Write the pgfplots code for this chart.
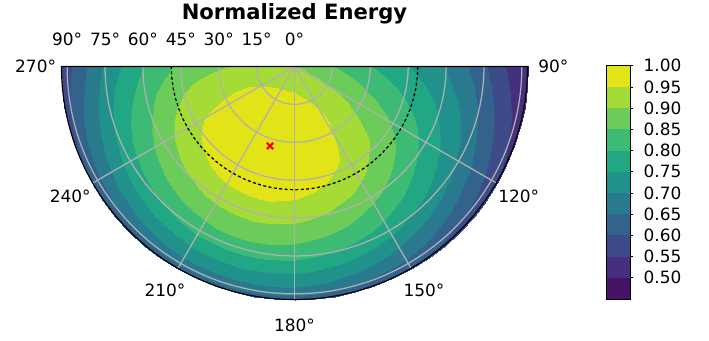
\documentclass[border=0pt]{standalone}
\usepackage{pgfplots}
\pgfplotsset{compat=1.18}
\usepackage{fontspec}
\setmainfont{DejaVu Sans}
\definecolor{b0}{RGB}{71,19,101}
\definecolor{b1}{RGB}{70,48,126}
\definecolor{b2}{RGB}{62,75,137}
\definecolor{b3}{RGB}{51,99,141}
\definecolor{b4}{RGB}{41,122,142}
\definecolor{b5}{RGB}{33,145,140}
\definecolor{b6}{RGB}{34,167,133}
\definecolor{b7}{RGB}{61,187,116}
\definecolor{b8}{RGB}{107,204,90}
\definecolor{b9}{RGB}{165,219,54}
\definecolor{b10}{RGB}{226,228,24}
\definecolor{gridgray}{RGB}{176,176,176}
\pgfplotsset{colormap={bands}{color(0pt)=(b0) color(1pt)=(b1) color(2pt)=(b2) color(3pt)=(b3) color(4pt)=(b4) color(5pt)=(b5) color(6pt)=(b6) color(7pt)=(b7) color(8pt)=(b8) color(9pt)=(b9) color(10pt)=(b10) color(11pt)=(b10)}}
\newcommand{\lbl}{\fontsize{12.2pt}{14pt}\selectfont}
\begin{document}
\begin{tikzpicture}
\useasboundingbox (0,0) rectangle (510.48pt,245.52pt);
\begin{axis}[
  at={(44.28pt,197.64pt)}, anchor=north west,
  x=1.86408pt, y=1.86408pt,
  xmin=-90, xmax=90, ymin=-90, ymax=0,
  hide axis, clip=false, enlargelimits=false,
  colormap name=bands, colormap access=piecewise constant,
  point meta min=0.45, point meta max=1.0,
]
% polar mesh: (angle, radius) [normalized energy]; angle = 90 - azimuth
\addplot[surf, shader=interp, data cs=polar, mesh/cols=37, point meta=explicit] coordinates {
(0,0)[.903] (-5,0)[.903] (-10,0)[.903] (-15,0)[.903] (-20,0)[.903] (-25,0)[.903] (-30,0)[.903] (-35,0)[.903] (-40,0)[.903] (-45,0)[.903] (-50,0)[.903] (-55,0)[.903] (-60,0)[.903] (-65,0)[.903] (-70,0)[.903] (-75,0)[.903] (-80,0)[.903] (-85,0)[.903] (-90,0)[.903] (-95,0)[.903] (-100,0)[.903] (-105,0)[.903] (-110,0)[.903] (-115,0)[.903] (-120,0)[.903] (-125,0)[.903] (-130,0)[.903] (-135,0)[.903] (-140,0)[.903] (-145,0)[.903] (-150,0)[.903] (-155,0)[.903] (-160,0)[.903] (-165,0)[.903] (-170,0)[.903] (-175,0)[.903] (-180,0)[.903]
(0,5)[.889] (-5,5)[.891] (-10,5)[.894] (-15,5)[.896] (-20,5)[.899] (-25,5)[.901] (-30,5)[.904] (-35,5)[.906] (-40,5)[.909] (-45,5)[.911] (-50,5)[.913] (-55,5)[.915] (-60,5)[.917] (-65,5)[.919] (-70,5)[.920] (-75,5)[.922] (-80,5)[.923] (-85,5)[.924] (-90,5)[.925] (-95,5)[.925] (-100,5)[.926] (-105,5)[.926] (-110,5)[.926] (-115,5)[.926] (-120,5)[.925] (-125,5)[.925] (-130,5)[.924] (-135,5)[.923] (-140,5)[.922] (-145,5)[.920] (-150,5)[.919] (-155,5)[.917] (-160,5)[.915] (-165,5)[.913] (-170,5)[.911] (-175,5)[.908] (-180,5)[.906]
(0,10)[.870] (-5,10)[.875] (-10,10)[.881] (-15,10)[.886] (-20,10)[.892] (-25,10)[.897] (-30,10)[.903] (-35,10)[.908] (-40,10)[.913] (-45,10)[.918] (-50,10)[.923] (-55,10)[.927] (-60,10)[.932] (-65,10)[.936] (-70,10)[.939] (-75,10)[.942] (-80,10)[.945] (-85,10)[.947] (-90,10)[.949] (-95,10)[.951] (-100,10)[.951] (-105,10)[.952] (-110,10)[.952] (-115,10)[.951] (-120,10)[.950] (-125,10)[.949] (-130,10)[.947] (-135,10)[.945] (-140,10)[.942] (-145,10)[.939] (-150,10)[.935] (-155,10)[.931] (-160,10)[.927] (-165,10)[.923] (-170,10)[.918] (-175,10)[.913] (-180,10)[.908]
(0,15)[.852] (-5,15)[.860] (-10,15)[.868] (-15,15)[.876] (-20,15)[.884] (-25,15)[.893] (-30,15)[.901] (-35,15)[.909] (-40,15)[.916] (-45,15)[.924] (-50,15)[.931] (-55,15)[.937] (-60,15)[.944] (-65,15)[.949] (-70,15)[.955] (-75,15)[.959] (-80,15)[.963] (-85,15)[.967] (-90,15)[.970] (-95,15)[.972] (-100,15)[.973] (-105,15)[.974] (-110,15)[.974] (-115,15)[.973] (-120,15)[.972] (-125,15)[.970] (-130,15)[.967] (-135,15)[.963] (-140,15)[.959] (-145,15)[.954] (-150,15)[.949] (-155,15)[.943] (-160,15)[.937] (-165,15)[.930] (-170,15)[.923] (-175,15)[.916] (-180,15)[.908]
(0,20)[.834] (-5,20)[.844] (-10,20)[.855] (-15,20)[.865] (-20,20)[.876] (-25,20)[.886] (-30,20)[.897] (-35,20)[.907] (-40,20)[.917] (-45,20)[.926] (-50,20)[.935] (-55,20)[.944] (-60,20)[.952] (-65,20)[.959] (-70,20)[.966] (-75,20)[.972] (-80,20)[.977] (-85,20)[.982] (-90,20)[.985] (-95,20)[.988] (-100,20)[.990] (-105,20)[.991] (-110,20)[.991] (-115,20)[.990] (-120,20)[.988] (-125,20)[.985] (-130,20)[.982] (-135,20)[.977] (-140,20)[.972] (-145,20)[.966] (-150,20)[.959] (-155,20)[.952] (-160,20)[.944] (-165,20)[.935] (-170,20)[.926] (-175,20)[.916] (-180,20)[.906]
(0,25)[.817] (-5,25)[.829] (-10,25)[.841] (-15,25)[.853] (-20,25)[.866] (-25,25)[.878] (-30,25)[.890] (-35,25)[.902] (-40,25)[.913] (-45,25)[.924] (-50,25)[.935] (-55,25)[.945] (-60,25)[.954] (-65,25)[.963] (-70,25)[.971] (-75,25)[.978] (-80,25)[.984] (-85,25)[.989] (-90,25)[.994] (-95,25)[.997] (-100,25)[.999] (-105,25)[1.000] (-110,25)[1.000] (-115,25)[.999] (-120,25)[.997] (-125,25)[.993] (-130,25)[.989] (-135,25)[.984] (-140,25)[.978] (-145,25)[.971] (-150,25)[.963] (-155,25)[.954] (-160,25)[.945] (-165,25)[.935] (-170,25)[.924] (-175,25)[.913] (-180,25)[.901]
(0,30)[.799] (-5,30)[.812] (-10,30)[.825] (-15,30)[.839] (-20,30)[.852] (-25,30)[.866] (-30,30)[.879] (-35,30)[.892] (-40,30)[.905] (-45,30)[.917] (-50,30)[.929] (-55,30)[.940] (-60,30)[.950] (-65,30)[.960] (-70,30)[.968] (-75,30)[.976] (-80,30)[.983] (-85,30)[.988] (-90,30)[.993] (-95,30)[.996] (-100,30)[.999] (-105,30)[1.000] (-110,30)[1.000] (-115,30)[.999] (-120,30)[.996] (-125,30)[.993] (-130,30)[.988] (-135,30)[.982] (-140,30)[.976] (-145,30)[.968] (-150,30)[.959] (-155,30)[.950] (-160,30)[.939] (-165,30)[.928] (-170,30)[.917] (-175,30)[.904] (-180,30)[.892]
(0,35)[.782] (-5,35)[.796] (-10,35)[.811] (-15,35)[.825] (-20,35)[.840] (-25,35)[.854] (-30,35)[.869] (-35,35)[.883] (-40,35)[.897] (-45,35)[.910] (-50,35)[.923] (-55,35)[.935] (-60,35)[.946] (-65,35)[.956] (-70,35)[.966] (-75,35)[.974] (-80,35)[.981] (-85,35)[.987] (-90,35)[.992] (-95,35)[.996] (-100,35)[.999] (-105,35)[1.000] (-110,35)[1.000] (-115,35)[.999] (-120,35)[.996] (-125,35)[.992] (-130,35)[.987] (-135,35)[.981] (-140,35)[.974] (-145,35)[.965] (-150,35)[.956] (-155,35)[.945] (-160,35)[.934] (-165,35)[.922] (-170,35)[.909] (-175,35)[.896] (-180,35)[.882]
(0,40)[.764] (-5,40)[.779] (-10,40)[.795] (-15,40)[.811] (-20,40)[.826] (-25,40)[.842] (-30,40)[.858] (-35,40)[.873] (-40,40)[.888] (-45,40)[.902] (-50,40)[.916] (-55,40)[.929] (-60,40)[.941] (-65,40)[.952] (-70,40)[.962] (-75,40)[.971] (-80,40)[.979] (-85,40)[.985] (-90,40)[.991] (-95,40)[.995] (-100,40)[.998] (-105,40)[.999] (-110,40)[.999] (-115,40)[.997] (-120,40)[.995] (-125,40)[.991] (-130,40)[.985] (-135,40)[.978] (-140,40)[.971] (-145,40)[.961] (-150,40)[.951] (-155,40)[.940] (-160,40)[.928] (-165,40)[.915] (-170,40)[.901] (-175,40)[.887] (-180,40)[.872]
(0,45)[.746] (-5,45)[.762] (-10,45)[.777] (-15,45)[.793] (-20,45)[.809] (-25,45)[.825] (-30,45)[.841] (-35,45)[.857] (-40,45)[.872] (-45,45)[.886] (-50,45)[.900] (-55,45)[.913] (-60,45)[.926] (-65,45)[.937] (-70,45)[.947] (-75,45)[.956] (-80,45)[.964] (-85,45)[.971] (-90,45)[.977] (-95,45)[.981] (-100,45)[.984] (-105,45)[.985] (-110,45)[.985] (-115,45)[.983] (-120,45)[.981] (-125,45)[.976] (-130,45)[.971] (-135,45)[.964] (-140,45)[.956] (-145,45)[.947] (-150,45)[.936] (-155,45)[.925] (-160,45)[.913] (-165,45)[.900] (-170,45)[.886] (-175,45)[.871] (-180,45)[.856]
(0,50)[.728] (-5,50)[.743] (-10,50)[.759] (-15,50)[.775] (-20,50)[.791] (-25,50)[.807] (-30,50)[.822] (-35,50)[.838] (-40,50)[.853] (-45,50)[.867] (-50,50)[.881] (-55,50)[.894] (-60,50)[.906] (-65,50)[.917] (-70,50)[.928] (-75,50)[.937] (-80,50)[.945] (-85,50)[.951] (-90,50)[.957] (-95,50)[.961] (-100,50)[.964] (-105,50)[.965] (-110,50)[.965] (-115,50)[.963] (-120,50)[.961] (-125,50)[.957] (-130,50)[.951] (-135,50)[.944] (-140,50)[.936] (-145,50)[.927] (-150,50)[.917] (-155,50)[.906] (-160,50)[.893] (-165,50)[.880] (-170,50)[.867] (-175,50)[.852] (-180,50)[.837]
(0,55)[.709] (-5,55)[.724] (-10,55)[.739] (-15,55)[.755] (-20,55)[.770] (-25,55)[.786] (-30,55)[.801] (-35,55)[.816] (-40,55)[.831] (-45,55)[.845] (-50,55)[.858] (-55,55)[.871] (-60,55)[.883] (-65,55)[.894] (-70,55)[.904] (-75,55)[.912] (-80,55)[.920] (-85,55)[.927] (-90,55)[.932] (-95,55)[.936] (-100,55)[.939] (-105,55)[.940] (-110,55)[.940] (-115,55)[.938] (-120,55)[.936] (-125,55)[.932] (-130,55)[.926] (-135,55)[.920] (-140,55)[.912] (-145,55)[.903] (-150,55)[.893] (-155,55)[.882] (-160,55)[.870] (-165,55)[.857] (-170,55)[.844] (-175,55)[.830] (-180,55)[.815]
(0,60)[.687] (-5,60)[.702] (-10,60)[.716] (-15,60)[.731] (-20,60)[.746] (-25,60)[.761] (-30,60)[.776] (-35,60)[.791] (-40,60)[.805] (-45,60)[.819] (-50,60)[.832] (-55,60)[.844] (-60,60)[.855] (-65,60)[.866] (-70,60)[.876] (-75,60)[.884] (-80,60)[.892] (-85,60)[.898] (-90,60)[.903] (-95,60)[.907] (-100,60)[.910] (-105,60)[.911] (-110,60)[.911] (-115,60)[.910] (-120,60)[.907] (-125,60)[.903] (-130,60)[.898] (-135,60)[.891] (-140,60)[.884] (-145,60)[.875] (-150,60)[.866] (-155,60)[.855] (-160,60)[.843] (-165,60)[.831] (-170,60)[.818] (-175,60)[.804] (-180,60)[.790]
(0,65)[.662] (-5,65)[.676] (-10,65)[.691] (-15,65)[.705] (-20,65)[.720] (-25,65)[.734] (-30,65)[.749] (-35,65)[.763] (-40,65)[.777] (-45,65)[.790] (-50,65)[.803] (-55,65)[.815] (-60,65)[.826] (-65,65)[.836] (-70,65)[.846] (-75,65)[.854] (-80,65)[.861] (-85,65)[.867] (-90,65)[.872] (-95,65)[.876] (-100,65)[.879] (-105,65)[.880] (-110,65)[.880] (-115,65)[.879] (-120,65)[.876] (-125,65)[.872] (-130,65)[.867] (-135,65)[.861] (-140,65)[.854] (-145,65)[.845] (-150,65)[.836] (-155,65)[.825] (-160,65)[.814] (-165,65)[.802] (-170,65)[.789] (-175,65)[.776] (-180,65)[.762]
(0,70)[.631] (-5,70)[.645] (-10,70)[.659] (-15,70)[.674] (-20,70)[.689] (-25,70)[.703] (-30,70)[.717] (-35,70)[.732] (-40,70)[.745] (-45,70)[.758] (-50,70)[.771] (-55,70)[.783] (-60,70)[.794] (-65,70)[.804] (-70,70)[.814] (-75,70)[.822] (-80,70)[.829] (-85,70)[.835] (-90,70)[.840] (-95,70)[.844] (-100,70)[.847] (-105,70)[.848] (-110,70)[.848] (-115,70)[.847] (-120,70)[.844] (-125,70)[.840] (-130,70)[.835] (-135,70)[.829] (-140,70)[.822] (-145,70)[.813] (-150,70)[.804] (-155,70)[.794] (-160,70)[.782] (-165,70)[.771] (-170,70)[.758] (-175,70)[.745] (-180,70)[.731]
(0,75)[.594] (-5,75)[.608] (-10,75)[.622] (-15,75)[.636] (-20,75)[.650] (-25,75)[.664] (-30,75)[.678] (-35,75)[.691] (-40,75)[.705] (-45,75)[.717] (-50,75)[.729] (-55,75)[.741] (-60,75)[.752] (-65,75)[.762] (-70,75)[.771] (-75,75)[.779] (-80,75)[.786] (-85,75)[.792] (-90,75)[.797] (-95,75)[.800] (-100,75)[.803] (-105,75)[.804] (-110,75)[.804] (-115,75)[.803] (-120,75)[.800] (-125,75)[.796] (-130,75)[.792] (-135,75)[.786] (-140,75)[.779] (-145,75)[.770] (-150,75)[.761] (-155,75)[.751] (-160,75)[.741] (-165,75)[.729] (-170,75)[.717] (-175,75)[.704] (-180,75)[.691]
(0,80)[.559] (-5,80)[.572] (-10,80)[.585] (-15,80)[.598] (-20,80)[.611] (-25,80)[.624] (-30,80)[.637] (-35,80)[.650] (-40,80)[.662] (-45,80)[.674] (-50,80)[.685] (-55,80)[.696] (-60,80)[.706] (-65,80)[.716] (-70,80)[.724] (-75,80)[.732] (-80,80)[.738] (-85,80)[.744] (-90,80)[.748] (-95,80)[.752] (-100,80)[.754] (-105,80)[.755] (-110,80)[.755] (-115,80)[.754] (-120,80)[.751] (-125,80)[.748] (-130,80)[.743] (-135,80)[.738] (-140,80)[.731] (-145,80)[.724] (-150,80)[.715] (-155,80)[.706] (-160,80)[.696] (-165,80)[.685] (-170,80)[.674] (-175,80)[.662] (-180,80)[.649]
(0,85)[.526] (-5,85)[.538] (-10,85)[.550] (-15,85)[.562] (-20,85)[.574] (-25,85)[.586] (-30,85)[.598] (-35,85)[.610] (-40,85)[.622] (-45,85)[.633] (-50,85)[.643] (-55,85)[.653] (-60,85)[.663] (-65,85)[.671] (-70,85)[.679] (-75,85)[.686] (-80,85)[.692] (-85,85)[.697] (-90,85)[.702] (-95,85)[.705] (-100,85)[.707] (-105,85)[.708] (-110,85)[.708] (-115,85)[.707] (-120,85)[.705] (-125,85)[.701] (-130,85)[.697] (-135,85)[.692] (-140,85)[.686] (-145,85)[.679] (-150,85)[.671] (-155,85)[.662] (-160,85)[.653] (-165,85)[.643] (-170,85)[.632] (-175,85)[.621] (-180,85)[.610]
(0,90.3)[.497] (-5,90.3)[.506] (-10,90.3)[.514] (-15,90.3)[.523] (-20,90.3)[.532] (-25,90.3)[.541] (-30,90.3)[.550] (-35,90.3)[.559] (-40,90.3)[.567] (-45,90.3)[.575] (-50,90.3)[.583] (-55,90.3)[.590] (-60,90.3)[.597] (-65,90.3)[.603] (-70,90.3)[.609] (-75,90.3)[.614] (-80,90.3)[.619] (-85,90.3)[.622] (-90,90.3)[.625] (-95,90.3)[.628] (-100,90.3)[.629] (-105,90.3)[.630] (-110,90.3)[.630] (-115,90.3)[.629] (-120,90.3)[.628] (-125,90.3)[.625] (-130,90.3)[.622] (-135,90.3)[.618] (-140,90.3)[.614] (-145,90.3)[.609] (-150,90.3)[.603] (-155,90.3)[.597] (-160,90.3)[.590] (-165,90.3)[.583] (-170,90.3)[.575] (-175,90.3)[.567] (-180,90.3)[.558]
};
% grid
\pgfplotsinvokeforeach{14.64,29.27,43.91,58.55,73.18,87.82}{
  \draw[gridgray, line width=0.9pt] (axis cs:#1,0) arc[start angle=0,end angle=-180,radius=#1*1.86408pt];
}
\pgfplotsinvokeforeach{-30,-60,-90,-120,-150}{
  \draw[gridgray, line width=0.9pt] (axis cs:0,0) -- ++(#1:167.77pt);
}
% dashed circle
\addplot[black, line width=0.9pt, dash pattern=on 2.2pt off 1.7pt, data cs=polar] coordinates {
(0,47.6) (-5,47.6) (-10,47.6) (-15,47.6) (-20,47.6) (-25,47.6) (-30,47.6) (-35,47.6) (-40,47.6) (-45,47.6) (-50,47.6) (-55,47.6) (-60,47.6) (-65,47.6) (-70,47.6) (-75,47.6) (-80,47.6) (-85,47.6) (-90,47.6) (-95,47.6) (-100,47.6) (-105,47.6) (-110,47.6) (-115,47.6) (-120,47.6) (-125,47.6) (-130,47.6) (-135,47.6) (-140,47.6) (-145,47.6) (-150,47.6) (-155,47.6) (-160,47.6) (-165,47.6) (-170,47.6) (-175,47.6) (-180,47.6)
};
% outline
\draw[black, line width=0.8pt] (axis cs:-90,0) -- (axis cs:90,0) arc[start angle=0,end angle=-180,radius=167.77pt] -- cycle;
% marker
\addplot[only marks, mark=x, mark size=3.2pt, red, line width=1.6pt, data cs=polar] coordinates {(-107.1,32.1)};
% theta labels
\node[font=\lbl] at (axis cs:100,0) {90°};
\node[font=\lbl] at (axis cs:86.6,-50) {120°};
\node[font=\lbl] at (axis cs:50,-86.6) {150°};
\node[font=\lbl] at (axis cs:0,-100) {180°};
\node[font=\lbl] at (axis cs:-50,-86.6) {210°};
\node[font=\lbl] at (axis cs:-86.6,-50) {240°};
\node[font=\lbl] at (axis cs:-100,0) {270°};
% radial labels
\node[font=\lbl, anchor=base] at (axis cs:-87.82,8.3) {90°};
\node[font=\lbl, anchor=base] at (axis cs:-73.18,8.3) {75°};
\node[font=\lbl, anchor=base] at (axis cs:-58.55,8.3) {60°};
\node[font=\lbl, anchor=base] at (axis cs:-43.91,8.3) {45°};
\node[font=\lbl, anchor=base] at (axis cs:-29.27,8.3) {30°};
\node[font=\lbl, anchor=base] at (axis cs:-14.64,8.3) {15°};
\node[font=\lbl, anchor=base] at (axis cs:0,8.3) {0°};
\end{axis}
\node[anchor=base, font=\fontsize{15.2pt}{18pt}\selectfont\bfseries] at (212.04pt,231.12pt) {Normalized Energy};
\begin{axis}[
  at={(436.8pt,198.2pt)}, anchor=north west,
  width=16.78pt, height=167.98pt, scale only axis,
  xmin=0, xmax=1, ymin=0.45, ymax=1,
  xtick=\empty,
  ytick={0.5,0.55,0.6,0.65,0.7,0.75,0.8,0.85,0.9,0.95,1.0},
  yticklabels={},
  ytick pos=right,
  tick align=outside, major tick length=2.5pt,
  tick style={black, line width=0.6pt},
  axis line style={black, line width=0.6pt},
  axis on top, clip=false,
]
\addplot[fill=b0, draw=none] coordinates {(0,0.45) (1,0.45) (1,0.5) (0,0.5)};
\addplot[fill=b1, draw=none] coordinates {(0,0.5) (1,0.5) (1,0.55) (0,0.55)};
\addplot[fill=b2, draw=none] coordinates {(0,0.55) (1,0.55) (1,0.6) (0,0.6)};
\addplot[fill=b3, draw=none] coordinates {(0,0.6) (1,0.6) (1,0.65) (0,0.65)};
\addplot[fill=b4, draw=none] coordinates {(0,0.65) (1,0.65) (1,0.7) (0,0.7)};
\addplot[fill=b5, draw=none] coordinates {(0,0.7) (1,0.7) (1,0.75) (0,0.75)};
\addplot[fill=b6, draw=none] coordinates {(0,0.75) (1,0.75) (1,0.8) (0,0.8)};
\addplot[fill=b7, draw=none] coordinates {(0,0.8) (1,0.8) (1,0.85) (0,0.85)};
\addplot[fill=b8, draw=none] coordinates {(0,0.85) (1,0.85) (1,0.9) (0,0.9)};
\addplot[fill=b9, draw=none] coordinates {(0,0.9) (1,0.9) (1,0.95) (0,0.95)};
\addplot[fill=b10, draw=none] coordinates {(0,0.95) (1,0.95) (1,1) (0,1)};
\pgfplotsinvokeforeach{0.50,0.55,0.60,0.65,0.70,0.75,0.80,0.85,0.90,0.95,1.00}{
  \node[font=\lbl, anchor=west, inner sep=0pt, xshift=9.6pt] at (axis cs:1,#1) {#1};
}
\end{axis}
\end{tikzpicture}
\end{document}
